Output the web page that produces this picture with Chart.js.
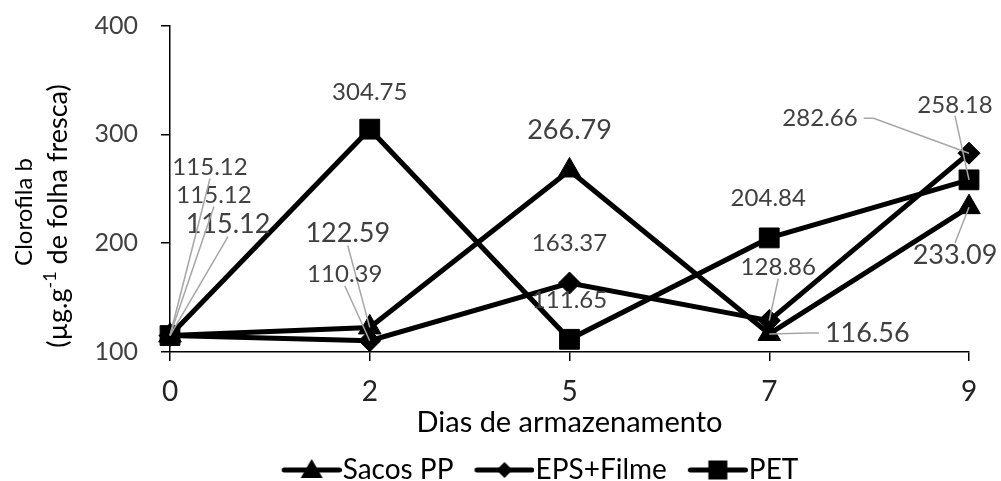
<!DOCTYPE html>
<html>
<head>
<meta charset="utf-8">
<script src="https://cdn.jsdelivr.net/npm/chart.js@4.4.1/dist/chart.umd.min.js"></script>
<style>
  html, body { margin: 0; padding: 0; background: #fff; }
  #wrap { width: 1001px; height: 481px; }
</style>
</head>
<body>
<div id="wrap"><canvas id="chart"></canvas></div>
<script>
const dias = ['0', '2', '5', '7', '9'];
const sacosPP = [115.12, 122.59, 266.79, 116.56, 233.09];
const epsFilme = [115.12, 110.39, 163.37, 128.86, 282.66];
const pet = [115.12, 304.75, 111.65, 204.84, 258.18];
const yTicks = [100, 200, 300, 400];

// label placement relative to its point (px) + leader line on/off
const offSacos = [[58, -111], [-22, -94], [0, -40], [98, -1], [-14, 48]];
const offEps = [[44, -140], [-25, -66], [0, -40], [9, -53], [-149, -35]];
const offPet = [[40, -168], [0, -37], [0, -39], [-1, -40], [-14, -75]];
const leadSacos = [true, true, false, true, true];
const leadEps = [true, true, false, true, true];
const leadPet = [true, false, false, false, true];

const FONT = "Lato, 'Open Sans', sans-serif";

const labelSpec = [
  { off: offSacos, lead: leadSacos, size: 27 },
  { off: offEps, lead: leadEps, size: 24 },
  { off: offPet, lead: leadPet, size: 24 }
];

// legend swatch: line with the marker, drawn in the right part of the canvas
function legendIcon(shape) {
  const c = document.createElement('canvas');
  c.width = 92;
  c.height = 28;
  const g = c.getContext('2d');
  const x0 = 34.5, x1 = 89.5, mx = 62, my = 14;
  g.strokeStyle = '#000';
  g.lineWidth = 5;
  g.lineCap = 'round';
  g.beginPath();
  g.moveTo(x0, my);
  g.lineTo(x1, my);
  g.stroke();
  g.fillStyle = '#000';
  g.beginPath();
  if (shape === 'triangle') {
    g.moveTo(mx, my - 11); g.lineTo(mx + 11, my + 8); g.lineTo(mx - 11, my + 8);
  } else if (shape === 'diamond') {
    g.moveTo(mx, my - 8); g.lineTo(mx + 8, my); g.lineTo(mx, my + 8); g.lineTo(mx - 8, my);
  } else {
    g.rect(mx - 9.5, my - 9.5, 19, 19);
  }
  g.closePath();
  g.fill();
  return c;
}
const icons = [legendIcon('triangle'), legendIcon('diamond'), legendIcon('square')];

// data labels with grey leader lines
const valueLabels = {
  id: 'valueLabels',
  afterDatasetsDraw(chart) {
    const ctx = chart.ctx;
    ctx.save();
    chart.data.datasets.forEach((ds, di) => {
      const spec = labelSpec[di];
      const meta = chart.getDatasetMeta(di);
      ctx.font = `${spec.size}px ${FONT}`;
      meta.data.forEach((pt, i) => {
        const txt = ds.data[i].toFixed(2);
        const [dx, dy] = spec.off[i];
        const cx = pt.x + dx, cy = pt.y + dy;
        if (spec.lead[i]) {
          const w = ctx.measureText(txt).width;
          const h = spec.size * 0.75;
          ctx.strokeStyle = '#a6a6a6';
          ctx.lineWidth = 1.5;
          ctx.beginPath();
          if (Math.abs(dx) > Math.abs(dy)) {
            const s = dx > 0 ? -1 : 1;
            const ax = cx + s * (w / 2 + 6);
            ctx.moveTo(ax, cy);
            ctx.lineTo(ax + s * 10, cy);
          } else {
            ctx.moveTo(cx, dy < 0 ? cy + h / 2 + 2 : cy - h / 2 - 2);
          }
          ctx.lineTo(pt.x, pt.y);
          ctx.stroke();
        }
        ctx.fillStyle = '#404040';
        ctx.textAlign = 'center';
        ctx.textBaseline = 'middle';
        ctx.fillText(txt, cx, cy);
      });
    });
    ctx.restore();
  }
};

// two line rotated y title with superscript
const yTitle = {
  id: 'yTitle',
  afterDraw(chart) {
    const ctx = chart.ctx;
    ctx.save();
    ctx.fillStyle = '#000';
    ctx.textBaseline = 'alphabetic';
    ctx.textAlign = 'left';

    ctx.save();
    ctx.translate(32, 212);
    ctx.rotate(-Math.PI / 2);
    ctx.font = `24px ${FONT}`;
    const t1 = 'Clorofila b';
    ctx.fillText(t1, -ctx.measureText(t1).width / 2, 0);
    ctx.restore();

    ctx.save();
    ctx.translate(67, 216);
    ctx.rotate(-Math.PI / 2);
    const a = '(µg.g', sup = '-1', b = ' de folha fresca)';
    ctx.font = `27px ${FONT}`;
    const wa = ctx.measureText(a).width, wb = ctx.measureText(b).width;
    ctx.font = `18px ${FONT}`;
    const ws = ctx.measureText(sup).width;
    let x = -(wa + ws + wb) / 2;
    ctx.font = `27px ${FONT}`;
    ctx.fillText(a, x, 0);
    x += wa;
    ctx.font = `18px ${FONT}`;
    ctx.fillText(sup, x, -11);
    x += ws;
    ctx.font = `27px ${FONT}`;
    ctx.fillText(b, x, 0);
    ctx.restore();

    ctx.restore();
  }
};

const serie = (label, data, style, radius) => ({
  label,
  data,
  borderColor: '#000',
  backgroundColor: '#000',
  borderWidth: 5,
  pointStyle: style,
  pointRadius: radius,
  pointHoverRadius: radius,
  pointBackgroundColor: '#000',
  pointBorderColor: '#000',
  pointBorderWidth: 1,
  tension: 0
});

new Chart(document.getElementById('chart'), {
  type: 'line',
  data: {
    labels: dias,
    datasets: [
      serie('Sacos PP', sacosPP, 'triangle', 13),
      serie('EPS+Filme', epsFilme, 'rectRot', 11),
      serie('PET', pet, 'rect', 14)
    ]
  },
  options: {
    responsive: true,
    maintainAspectRatio: false,
    animation: false,
    layout: { padding: { left: 92, right: 32, top: 25, bottom: -13 } },
    plugins: {
      tooltip: { enabled: false },
      legend: {
        position: 'bottom',
        labels: {
          usePointStyle: true,
          pointStyleWidth: 66,
          padding: 2,
          color: '#000',
          font: { family: FONT, size: 28 },
          generateLabels: chart =>
            Chart.defaults.plugins.legend.labels.generateLabels(chart).map((it, i) => ({ ...it, pointStyle: icons[i] }))
        }
      }
    },
    scales: {
      x: {
        type: 'category',
        offset: false,
        afterFit: s => { s.height = 102; },
        grid: { drawOnChartArea: false, drawTicks: true, tickLength: 9, color: '#000', lineWidth: 1.5 },
        border: { display: true, color: '#000', width: 1.5 },
        ticks: { color: '#222', padding: 14, font: { family: FONT, size: 28 } },
        title: {
          display: true,
          text: 'Dias de armazenamento',
          color: '#000',
          padding: { top: 0, bottom: 13.6 },
          font: { family: FONT, size: 29 }
        }
      },
      y: {
        min: 100,
        max: 400,
        afterFit: s => { s.width = 78; },
        afterBuildTicks: s => { s.ticks = yTicks.map(v => ({ value: v })); },
        grid: { drawOnChartArea: false, drawTicks: true, tickLength: 9, color: '#000', lineWidth: 1.5 },
        border: { display: true, color: '#000', width: 1.5 },
        ticks: { color: '#404040', padding: 23, font: { family: FONT, size: 25, lineHeight: 0.2 } }
      }
    }
  },
  plugins: [valueLabels, yTitle]
});
</script>
</body>
</html>
